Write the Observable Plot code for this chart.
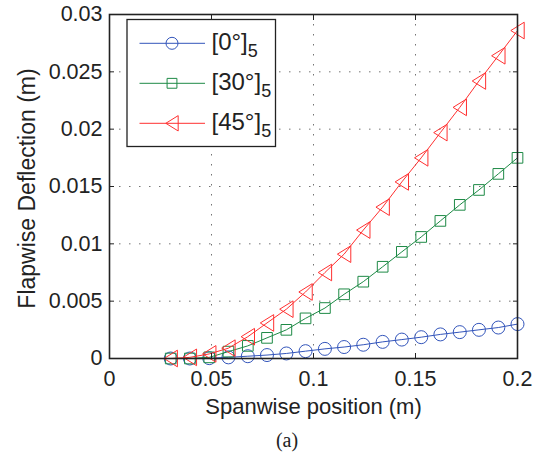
<!DOCTYPE html>
<html>
<head>
<meta charset="utf-8">
<script src="https://cdn.jsdelivr.net/npm/d3@7"></script>
<script src="https://cdn.jsdelivr.net/npm/@observablehq/plot@0.6"></script>
<style>
  body { margin: 0; background: #fff; }
  #chart { width: 539px; }
  #caption {
    width: 574px; height: 30px; line-height: 30px; text-align: center;
    font-family: "Liberation Serif", "Times New Roman", serif; font-size: 20px; color: #222;
  }
</style>
</head>
<body>
<div id="chart"></div>
<div id="caption">(a)</div>
<script>
// ---- data ----
const spanX = [0.0300, 0.0394, 0.0489, 0.0583, 0.0678, 0.0772, 0.0867, 0.0961, 0.1056, 0.1150,
               0.1244, 0.1339, 0.1433, 0.1528, 0.1622, 0.1717, 0.1811, 0.1906, 0.2000];
const defl0  = [0, 0, 0.00003, 0.0001, 0.0002, 0.0003, 0.00044, 0.00064, 0.00084, 0.0010,
                0.0012, 0.00145, 0.00165, 0.00186, 0.0021, 0.0023, 0.0025, 0.0027, 0.0030];
const defl30 = [0, 0, 0.0001, 0.0006, 0.0011, 0.0018, 0.0025, 0.0035, 0.0044, 0.0056,
                0.0067, 0.0080, 0.0093, 0.0106, 0.0120, 0.0134, 0.0147, 0.0161, 0.0175];
const defl45 = [0, 0.0001, 0.0004, 0.0009, 0.0019, 0.0031, 0.0043, 0.0058, 0.0075, 0.0091,
                0.0112, 0.0132, 0.0154, 0.0175, 0.0197, 0.0219, 0.0242, 0.0264, 0.0286];
const seriesNames = ["[0°]", "[30°]", "[45°]"];
const seriesSubs = ["5", "5", "5"];
const seriesColors = ["#3355bb", "#1e8a46", "#ff3030"];
const xTicks = [0, 0.05, 0.1, 0.15, 0.2];
const xTickLabels = ["0", "0.05", "0.1", "0.15", "0.2"];
const yTicks = [0, 0.005, 0.01, 0.015, 0.02, 0.025, 0.03];
const yTickLabels = ["0", "0.005", "0.01", "0.015", "0.02", "0.025", "0.03"];
const xLabel = "Spanwise position (m)";
const yLabel = "Flapwise Deflection (m)";

// ---- symbols (MATLAB-like o, square, <) ----
const symCircle = { draw(ctx, size) { const r = Math.sqrt(size / Math.PI); ctx.moveTo(r, 0); ctx.arc(0, 0, r, 0, 2 * Math.PI); } };
const symSquare = { draw(ctx, size) { const r = Math.sqrt(size / Math.PI) * 0.82; ctx.rect(-r, -r, 2 * r, 2 * r); } };
const symTriLeft = { draw(ctx, size) { const r = Math.sqrt(size / Math.PI); const w = r * 1.03, h = r * 1.28;
  ctx.moveTo(-w, 0); ctx.lineTo(w, -h); ctx.lineTo(w, h); ctx.closePath(); } };
const seriesSymbols = [symCircle, symSquare, symTriLeft];
const seriesValues = [defl0, defl30, defl45];

const series = seriesNames.map((name, k) => ({
  name, sub: seriesSubs[k], color: seriesColors[k], symbol: seriesSymbols[k],
  data: spanX.map((x, i) => ({ x, y: seriesValues[k][i] }))
}));

const R = 6.5;
const font = "'Liberation Sans', Arial, Helvetica, sans-serif";
const textColor = "#222";
const gridStyle = { stroke: "#000", strokeOpacity: 0.55, strokeDasharray: "1.5,8.5", strokeWidth: 1 };
const fmtX = d => xTickLabels[xTicks.indexOf(d)];
const fmtY = d => yTickLabels[yTicks.indexOf(d)];

const marks = [
  Plot.gridX(xTicks, gridStyle),
  Plot.gridY(yTicks, gridStyle),
  ...series.flatMap(s => [
    Plot.line(s.data, { x: "x", y: "y", stroke: s.color, strokeWidth: 1 }),
    Plot.dot(s.data, { x: "x", y: "y", r: R, symbol: s.symbol, stroke: s.color, fill: "none", strokeWidth: 1 })
  ]),
  // tick labels
  Plot.axisX(xTicks, { anchor: "bottom", tickSize: 0, tickPadding: 12, tickFormat: fmtX, fontSize: 21.5, fill: textColor, label: null }),
  Plot.axisY(yTicks, { anchor: "left", tickSize: 0, tickPadding: 7, tickFormat: fmtY, fontSize: 21.5, fill: textColor, label: null }),
  // axis titles
  Plot.text([xLabel], { text: d => d, frameAnchor: "bottom", dy: 55, lineAnchor: "bottom", textAnchor: "middle", fontSize: 22, fill: textColor }),
  Plot.text([yLabel], { text: d => d, frameAnchor: "left", rotate: -90, dx: -82, dy: 2, textAnchor: "middle", lineAnchor: "middle", fontSize: 23, fill: textColor }),
  // inward ticks on all four sides
  Plot.axisX(xTicks, { anchor: "bottom", tickSize: -5, tickFormat: () => null, label: null, stroke: "#222" }),
  Plot.axisX(xTicks, { anchor: "top", tickSize: -5, tickFormat: () => null, label: null, stroke: "#222" }),
  Plot.axisY(yTicks, { anchor: "left", tickSize: -5, tickFormat: () => null, label: null, stroke: "#222" }),
  Plot.axisY(yTicks, { anchor: "right", tickSize: -5, tickFormat: () => null, label: null, stroke: "#222" }),
  Plot.frame({ stroke: "#222", strokeWidth: 1.6 })
];

const plot = Plot.plot({
  width: 539,
  height: 425,
  marginLeft: 109,
  marginRight: 22,
  marginTop: 14,
  marginBottom: 67,
  style: { fontFamily: font, fontSize: "21px", color: textColor, background: "#fff" },
  x: { domain: [0, 0.2], nice: false },
  y: { domain: [0, 0.03], nice: false },
  marks
});

// ---- legend box inside the axes (top-left) ----
const svg = d3.select(plot);
const lg = svg.append("g").attr("class", "legend").attr("text-anchor", "start");
lg.append("rect").attr("x", 127).attr("y", 19.5).attr("width", 148.5).attr("height", 127)
  .attr("fill", "#fff").attr("stroke", "#222").attr("stroke-width", 1.3);
const rowY = [43.3, 83.3, 123.3];
series.forEach((s, k) => {
  const y = rowY[k];
  lg.append("line").attr("x1", 139.5).attr("x2", 205).attr("y1", y).attr("y2", y)
    .attr("stroke", s.color).attr("stroke-width", 1);
  lg.append("path").attr("transform", `translate(172,${y})`)
    .attr("d", d3.symbol().type(s.symbol).size(Math.PI * 6 * 6)())
    .attr("fill", "none").attr("stroke", s.color).attr("stroke-width", 1);
  const t = lg.append("text").attr("x", 211.5).attr("y", y + 7)
    .attr("text-anchor", "start")
    .attr("font-family", font).attr("font-size", 24).attr("fill", textColor);
  t.append("tspan").text(s.name);
  t.append("tspan").attr("dy", 7).attr("font-size", 18).text(s.sub);
});

document.getElementById("chart").appendChild(plot);
</script>
</body>
</html>
